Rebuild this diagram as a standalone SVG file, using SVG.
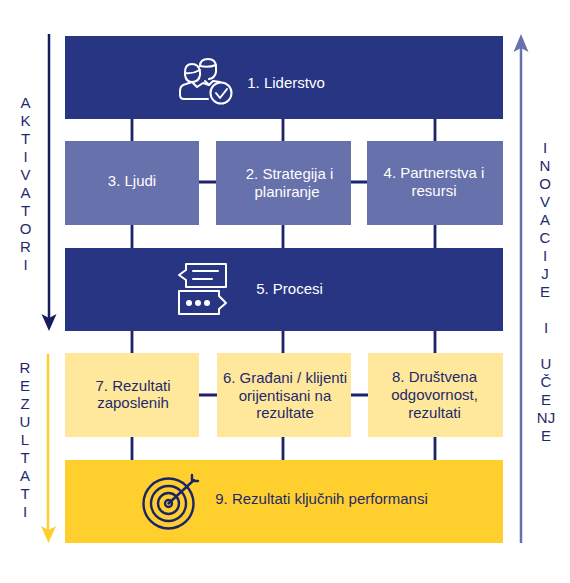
<svg xmlns="http://www.w3.org/2000/svg" width="570" height="583" viewBox="0 0 570 583">
<style>
text{font-family:"Liberation Sans",Arial,sans-serif;font-size:15px;fill:#1f2a6b;text-anchor:middle;opacity:.999}
text.w{fill:#fff}
.c{stroke:#1b2468;stroke-width:2.8;fill:none}
.iw{fill:none;stroke:#fff;stroke-width:2;stroke-linejoin:round;stroke-linecap:round}
.it{fill:none;stroke:#1b2468;stroke-width:2.4;stroke-linecap:round}
.ln{stroke-width:2.5;fill:none}
</style>
<rect width="570" height="583" fill="#fff"/>
<g id="connectors">
<path class="c" d="M132 119V141M283 119V141M435 119V141M199 182H216M351 182H367M132 225V248M283 225V248M435 225V248M132 331V353M283 331V353M435 331V353M199 395H217M351 395H368M132 437V460M283 437V460M435 437V460"/>
<path class="ln" stroke="#151c60" d="M49 34V320"/><path fill="#151c60" d="M41.500 314L49 318L56.500 314L49 331Z"/>
<path class="ln" stroke="#ffcf2e" d="M48 354V532"/><path fill="#ffcf2e" d="M41 526L48.500 530L56 526L48.500 543Z"/>
<path class="ln" stroke="#6771ab" d="M521 46V543"/><path fill="#6771ab" d="M513.500 52L521 48L528.500 52L521 34Z"/>
</g>
<g id="n1"><rect x="65" y="36" width="438" height="83" fill="#283583"/>
<g class="iw"><path d="M208 99H184Q180 99 180 95V91Q180 85 186 84L192 82L197 87L203 83L209 85"/><path d="M185 72Q185 64 192 64Q199 64 200 72V75Q199 82 192 82Q186 82 185 75Z"/><path d="M185 73Q193 74 200 70"/><path d="M200 66Q200 59 208 59Q216 59 216 67V72Q215 78 209 79M205 81L209 85L213 81L220 82"/><path d="M200 66Q208 68 216 65"/><circle cx="221" cy="93" r="10.500"/><path d="M216 93L220 98L227 89"/></g>
<text class="w" x="286" y="88">1. Liderstvo</text></g>
<g id="n3"><rect x="65" y="141" width="134" height="84" fill="#6771ab"/><text class="w" x="132" y="186">3. Ljudi</text></g>
<g id="n2"><rect x="216" y="141" width="135" height="84" fill="#6771ab"/><text class="w" x="289.500" y="179">2. Strategija i</text><text class="w" x="287" y="197">planiranje</text></g>
<g id="n4"><rect x="367" y="141" width="136" height="84" fill="#6771ab"/><text class="w" x="434" y="178">4. Partnerstva i</text><text class="w" x="434" y="196">resursi</text></g>
<g id="n5"><rect x="65" y="248" width="438" height="83" fill="#283583"/>
<g class="iw"><path d="M186 264H226V287H186V280L179 275L186 270Z"/><path d="M193 271H218M193 279H212"/><path d="M179 291H219V296L226 303L219 309V314H179Z"/></g>
<g fill="#fff"><circle cx="189" cy="303" r="3"/><circle cx="198" cy="303" r="3"/><circle cx="207" cy="303" r="3"/></g>
<text class="w" x="289.500" y="294">5. Procesi</text></g>
<g id="n7"><rect x="65" y="353" width="134" height="84" fill="#ffe89b"/><text x="133" y="391">7. Rezultati</text><text x="133" y="408">zaposlenih</text></g>
<g id="n6"><rect x="217" y="353" width="134" height="84" fill="#ffe89b"/><text x="285" y="383">6. Građani / klijenti</text><text x="285" y="401">orijentisani na</text><text x="285" y="418">rezultate</text></g>
<g id="n8"><rect x="368" y="353" width="135" height="84" fill="#ffe89b"/><text x="434.500" y="382">8. Društvena</text><text x="434.500" y="400">odgovornost,</text><text x="434.500" y="418">rezultati</text></g>
<g id="n9"><rect x="65" y="460" width="438" height="83" fill="#ffcf2e"/>
<g class="it"><circle cx="168.500" cy="503.500" r="25"/><circle cx="168.500" cy="503.500" r="17.500"/><circle cx="168.500" cy="503.500" r="10.500"/><circle cx="168.500" cy="503.500" r="3.500"/><path d="M168.500 503.500L194 480M192 475V481H198"/></g>
<text x="321.500" y="504">9. Rezultati ključnih performansi</text></g>
<g id="label-aktivatori">
<text x="25.500" y="108">A</text><text x="25.500" y="126">K</text><text x="25.500" y="144">T</text><text x="25.500" y="162">I</text><text x="25.500" y="180">V</text><text x="25.500" y="198">A</text><text x="25.500" y="216">T</text><text x="25.500" y="234">O</text><text x="25.500" y="252">R</text><text x="25.500" y="270">I</text></g>
<g id="label-rezultati">
<text x="25" y="373">R</text><text x="25" y="391">E</text><text x="25" y="409">Z</text><text x="25" y="427">U</text><text x="25" y="445">L</text><text x="25" y="463">T</text><text x="25" y="481">A</text><text x="25" y="499">T</text><text x="25" y="517">I</text></g>
<g id="label-inovacije">
<text x="545" y="153">I</text><text x="545" y="171">N</text><text x="545" y="189">O</text><text x="545" y="207">V</text><text x="545" y="225">A</text><text x="545" y="243">C</text><text x="545" y="261">I</text><text x="545" y="279">J</text><text x="545" y="297">E</text><text x="546" y="333">I</text><text x="546" y="369">U</text><text x="546" y="387">Č</text><text x="546" y="405">E</text><text x="546" y="423">NJ</text><text x="546" y="441">E</text></g>
</svg>
